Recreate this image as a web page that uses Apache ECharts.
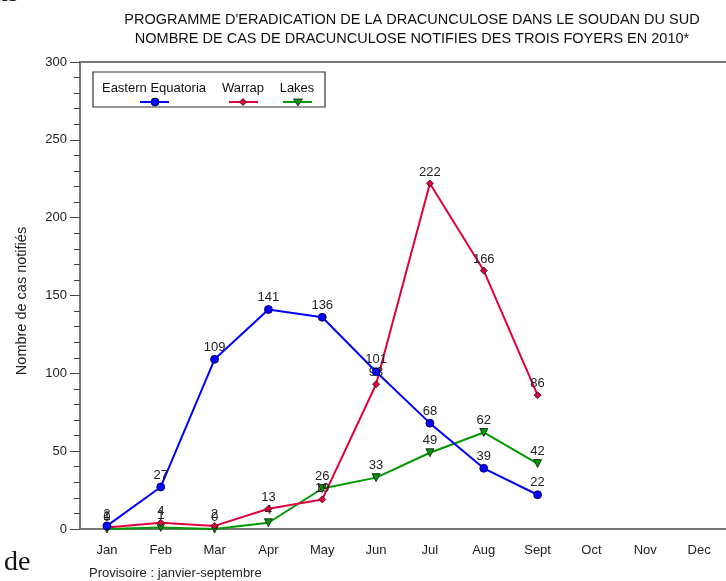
<!DOCTYPE html>
<html><head><meta charset="utf-8">
<script src="https://cdn.jsdelivr.net/npm/echarts@6/dist/echarts.min.js"></script>
<style>html,body{margin:0;padding:0;background:#fff}#c{width:726px;height:581px}</style>
</head><body><div id="c"></div>
<script>
var months = ['Jan','Feb','Mar','Apr','May','Jun','Jul','Aug','Sept','Oct','Nov','Dec'];
var easternEquatoria = [2, 27, 109, 141, 136, 101, 68, 39, 22];
var warrap = [1, 4, 2, 13, 19, 93, 222, 166, 86];
var lakes = [0, 1, 0, 4, 26, 33, 49, 62, 42];
var titleLines = ["PROGRAMME D'ERADICATION DE LA DRACUNCULOSE DANS LE SOUDAN DU SUD", "NOMBRE DE CAS DE DRACUNCULOSE NOTIFIES DES TROIS FOYERS EN 2010*"];
var yAxisName = 'Nombre de cas notifiés';

var FONT = '"Liberation Sans", Arial, sans-serif';
var chart = echarts.init(document.getElementById('c'), null, {renderer:'canvas'});
function lbl(){ return {show:true, position:'top', distance:1, color:'#222', fontSize:13, fontFamily:FONT}; }
chart.setOption({
  animation:false,
  textStyle:{fontFamily:FONT},
  title:{text:titleLines.join('\n'), left:407, textAlign:'center', top:5,
    textStyle:{fontSize:14.5, fontWeight:'normal', color:'#111', lineHeight:19, fontFamily:FONT}},
  grid:{left:80, top:62, right:-4, bottom:52},
  xAxis:[{type:'category', data:months, boundaryGap:true,
    axisLine:{lineStyle:{color:'#777', width:2}},
    axisTick:{alignWithLabel:true, length:10, lineStyle:{color:'#222'}},
    axisLabel:{color:'#222', fontSize:13, margin:15, fontFamily:FONT}},
   {type:'category', data:months, position:'top', axisLine:{show:true, lineStyle:{color:'#777', width:2}},
    axisTick:{show:false}, axisLabel:{show:false}}],
  yAxis:{type:'value', min:0, max:300, interval:50,
    axisLine:{show:true, lineStyle:{color:'#777', width:2}},
    axisTick:{show:true, length:10, lineStyle:{color:'#444'}},
    minorTick:{show:true, splitNumber:5, length:6, lineStyle:{color:'#444'}},
    splitLine:{show:false},
    axisLabel:{color:'#222', fontSize:13, margin:13, fontFamily:FONT}},
  series:[
    {name:'Eastern Equatoria', type:'line', data:easternEquatoria, color:'#0000ff',
      lineStyle:{width:2, color:'#0000ff'}, symbol:'circle', symbolSize:8,
      itemStyle:{color:'#0000ff', borderColor:'#000033', borderWidth:0.8}, label:lbl(), z:4},
    {name:'Warrap', type:'line', data:warrap, color:'#e0003c',
      lineStyle:{width:2, color:'#e0003c'}, symbol:'diamond', symbolSize:7,
      itemStyle:{color:'#e0003c', borderColor:'#111', borderWidth:0.8}, label:lbl(), z:3},
    {name:'Lakes', type:'line', data:lakes, color:'#00a000',
      lineStyle:{width:2, color:'#009900'}, symbol:'triangle', symbolRotate:180, symbolSize:8,
      itemStyle:{color:'#009900', borderColor:'#111', borderWidth:0.8}, label:lbl(), z:2}
  ],
  graphic:[
    {type:'text', x:22, y:301, rotation:Math.PI/2, style:{text:yAxisName, fontSize:14.5, fontFamily:FONT, fill:'#222', textAlign:'center', textVerticalAlign:'middle'}},
    {type:'rect', shape:{x:93, y:72, width:232, height:35}, style:{fill:'#fff', stroke:'#333', lineWidth:1.2}, z:10},
    {type:'text', x:154, y:82, style:{text:'Eastern Equatoria', fontSize:13, fontFamily:FONT, fill:'#111', textAlign:'center'}, z:11},
    {type:'text', x:243, y:82, style:{text:'Warrap', fontSize:13, fontFamily:FONT, fill:'#111', textAlign:'center'}, z:11},
    {type:'text', x:297, y:82, style:{text:'Lakes', fontSize:13, fontFamily:FONT, fill:'#111', textAlign:'center'}, z:11},
    {type:'line', shape:{x1:140, y1:102, x2:169, y2:102}, style:{stroke:'#0000ff', lineWidth:2}, z:11},
    {type:'circle', shape:{cx:155, cy:102, r:4}, style:{fill:'#0000ff', stroke:'#000033', lineWidth:0.8}, z:12},
    {type:'line', shape:{x1:229, y1:102, x2:258, y2:102}, style:{stroke:'#e0003c', lineWidth:2}, z:11},
    {type:'polygon', shape:{points:[[243,98.5],[246.5,102],[243,105.5],[239.5,102]]}, style:{fill:'#e0003c', stroke:'#111', lineWidth:0.8}, z:12},
    {type:'line', shape:{x1:283, y1:102, x2:312, y2:102}, style:{stroke:'#009900', lineWidth:2}, z:11},
    {type:'polygon', shape:{points:[[293.5,99],[302.5,99],[298,106]]}, style:{fill:'#009900', stroke:'#111', lineWidth:0.8}, z:12},
    {type:'text', x:89, y:567, style:{text:'Provisoire : janvier-septembre', fontSize:13, fontFamily:FONT, fill:'#222'}},
    {type:'text', x:4, y:549, style:{text:'de', fontSize:28, fontFamily:'"Liberation Serif", serif', fill:'#111'}},
    {type:'text', x:-6, y:-20, style:{text:'ns', fontSize:28, fontFamily:'"Liberation Serif", serif', fill:'#111'}}
  ]
});
</script></body></html>
